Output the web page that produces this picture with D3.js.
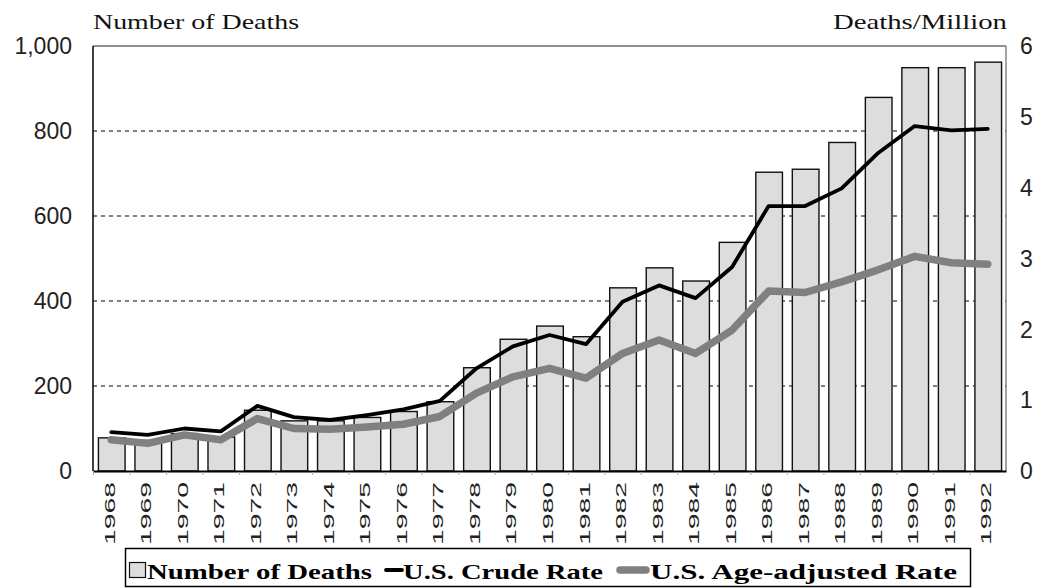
<!DOCTYPE html>
<html>
<head>
<meta charset="utf-8">
<script src="https://cdn.jsdelivr.net/npm/d3@7"></script>
<style>
  html, body { margin: 0; padding: 0; background: #fff; }
  svg { display: block; }
</style>
</head>
<body>
<svg id="chart" width="1043" height="588"></svg>
<script>
const years = ["1968","1969","1970","1971","1972","1973","1974","1975","1976","1977","1978","1979","1980","1981","1982","1983","1984","1985","1986","1987","1988","1989","1990","1991","1992"];
const deaths = [78, 72, 88, 80, 143, 118, 118, 126, 140, 163, 243, 310, 341, 316, 431, 478, 447, 538, 703, 710, 773, 879, 949, 949, 962];
const crudeRate = [0.55, 0.51, 0.60, 0.56, 0.92, 0.76, 0.72, 0.79, 0.87, 0.99, 1.45, 1.76, 1.92, 1.79, 2.39, 2.62, 2.44, 2.88, 3.74, 3.74, 3.99, 4.49, 4.87, 4.81, 4.83];
const ageAdjRate = [0.44, 0.39, 0.51, 0.44, 0.74, 0.60, 0.59, 0.62, 0.66, 0.77, 1.10, 1.33, 1.45, 1.31, 1.66, 1.85, 1.66, 1.99, 2.54, 2.52, 2.67, 2.84, 3.03, 2.94, 2.92];
const leftTicks = [0, 200, 400, 600, 800, 1000];
const rightTicks = [0, 1, 2, 3, 4, 5, 6];
const legendLabels = ["Number of Deaths", "U.S. Crude Rate", "U.S. Age-adjusted Rate"];

const svg = d3.select("#chart");
const L = 93, R = 1006, T = 46, B = 471;

const x = d3.scaleBand().domain(years).range([L, R]).paddingInner(0.27).paddingOuter(0.135);
const yL = d3.scaleLinear().domain([0, 1000]).range([B, T]);
const yR = d3.scaleLinear().domain([0, 6]).range([B, T]);

// gridlines
svg.append("g").selectAll("line").data(leftTicks.filter(d => d > 0 && d < 1000)).join("line")
  .attr("x1", L).attr("x2", R).attr("y1", d => yL(d)).attr("y2", d => yL(d))
  .attr("stroke", "#000").attr("stroke-width", 1).attr("stroke-dasharray", "4,4");

// bars
svg.append("g").selectAll("rect").data(deaths).join("rect")
  .attr("x", (d, i) => x(years[i]) + 0.5)
  .attr("y", d => yL(d))
  .attr("width", x.bandwidth())
  .attr("height", d => B - yL(d))
  .attr("fill", "#dddddd").attr("stroke", "#111").attr("stroke-width", 1.4);

// frame
svg.append("line").attr("x1", L).attr("x2", R).attr("y1", T).attr("y2", T).attr("stroke", "#222").attr("stroke-width", 1);
svg.append("line").attr("x1", R).attr("x2", R).attr("y1", T).attr("y2", B).attr("stroke", "#666").attr("stroke-width", 1.2);
svg.append("line").attr("x1", L).attr("x2", L).attr("y1", T).attr("y2", B).attr("stroke", "#000").attr("stroke-width", 1.5);

// x axis
const xAxis = d3.axisBottom(x).tickSize(0).tickFormat("");
const gx = svg.append("g").attr("transform", `translate(0,${B})`).call(xAxis);
gx.select(".domain").attr("stroke", "#000").attr("stroke-width", 2.2);
svg.append("g").selectAll("line").data(years).join("line")
  .attr("x1", d => x(d) - x.step() * x.paddingInner() / 2 + 0.5)
  .attr("x2", d => x(d) - x.step() * x.paddingInner() / 2 + 0.5)
  .attr("y1", B + 1).attr("y2", B + 4)
  .attr("stroke", "#aaa").attr("stroke-width", 1);

svg.append("g").selectAll("text").data(years).join("text")
  .attr("transform", d => `translate(${x(d) + x.bandwidth() / 2 + 3.5},482) rotate(-90)`)
  .attr("text-anchor", "end")
  .attr("font-family", "Liberation Sans, Arial, sans-serif")
  .attr("font-size", 14.5)
  .attr("textLength", 63)
  .attr("lengthAdjust", "spacingAndGlyphs")
  .attr("fill", "#222")
  .text(d => d);

// left axis labels
const fmt = d3.format(",");
svg.append("g").selectAll("text").data(leftTicks).join("text")
  .attr("x", 72).attr("y", d => yL(d))
  .attr("dy", "0.36em")
  .attr("text-anchor", "end")
  .attr("font-family", "Liberation Sans, Arial, sans-serif")
  .attr("font-size", 23)
  .attr("fill", "#222")
  .text(d => fmt(d));

// right axis labels
svg.append("g").selectAll("text").data(rightTicks).join("text")
  .attr("x", 1020).attr("y", d => yR(d))
  .attr("dy", "0.36em")
  .attr("text-anchor", "start")
  .attr("font-family", "Liberation Sans, Arial, sans-serif")
  .attr("font-size", 23)
  .attr("fill", "#222")
  .text(d => d);

// axis titles
svg.append("text").attr("x", 93).attr("y", 29)
  .attr("font-family", "Liberation Serif, Times New Roman, serif").attr("font-size", 21)
  .attr("textLength", 206).attr("lengthAdjust", "spacingAndGlyphs").attr("fill", "#111")
  .text("Number of Deaths");
svg.append("text").attr("x", 833).attr("y", 29)
  .attr("font-family", "Liberation Serif, Times New Roman, serif").attr("font-size", 21)
  .attr("textLength", 174).attr("lengthAdjust", "spacingAndGlyphs").attr("fill", "#111")
  .text("Deaths/Million");

// lines
const lineGen = d3.line().x((d, i) => x(years[i]) + x.bandwidth() / 2).y(d => yR(d));
svg.append("path").datum(crudeRate).attr("d", lineGen)
  .attr("fill", "none").attr("stroke", "#000").attr("stroke-width", 3.8)
  .attr("stroke-linejoin", "round").attr("stroke-linecap", "round");
svg.append("path").datum(ageAdjRate).attr("d", lineGen)
  .attr("fill", "none").attr("stroke", "#808080").attr("stroke-width", 7.5)
  .attr("stroke-linejoin", "round").attr("stroke-linecap", "round");

// legend
const lg = svg.append("g");
lg.append("rect").attr("x", 125.5).attr("y", 548.5).attr("width", 845).attr("height", 38)
  .attr("fill", "#fff").attr("stroke", "#000").attr("stroke-width", 1.5);
lg.append("rect").attr("x", 129.5).attr("y", 562.5).attr("width", 16).attr("height", 15)
  .attr("fill", "#dddddd").attr("stroke", "#111").attr("stroke-width", 1.2);
lg.append("line").attr("x1", 386).attr("x2", 402).attr("y1", 570).attr("y2", 570)
  .attr("stroke", "#000").attr("stroke-width", 3.8).attr("stroke-linecap", "round");
lg.append("line").attr("x1", 620).attr("x2", 646).attr("y1", 570).attr("y2", 570)
  .attr("stroke", "#808080").attr("stroke-width", 7.5).attr("stroke-linecap", "round");
const legendPos = [[147, 225], [403, 200], [650, 307]];
lg.selectAll("text.lg").data(legendLabels).join("text").attr("class", "lg")
  .attr("x", (d, i) => legendPos[i][0]).attr("y", 579)
  .attr("textLength", (d, i) => legendPos[i][1]).attr("lengthAdjust", "spacingAndGlyphs")
  .attr("font-family", "Liberation Serif, Times New Roman, serif")
  .attr("font-weight", "bold").attr("font-size", 21).attr("fill", "#000")
  .text(d => d);
</script>
</body>
</html>
